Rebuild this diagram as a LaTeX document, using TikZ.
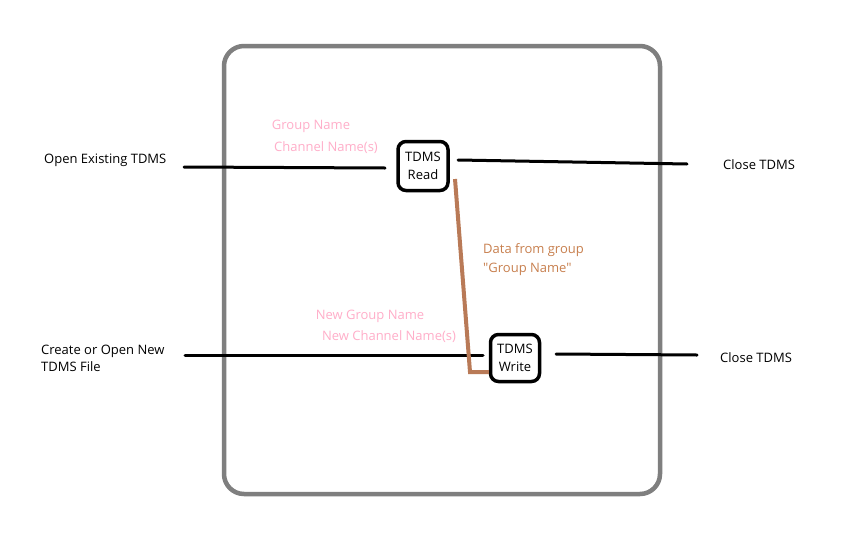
\documentclass[tikz,border=0pt]{standalone}
\usepackage{fontspec}
\setmainfont{Open Sans}[Ligatures=TeXOff]
\definecolor{pinklbl}{HTML}{FFAEC9}
\definecolor{brownln}{HTML}{B97A57}
\definecolor{brownlbl}{HTML}{C8804F}
\definecolor{framegray}{HTML}{7F7F7F}
\begin{document}
\begin{tikzpicture}[x=1pt,y=-1pt,
  lbl/.style={font=\fontsize{13}{17}\selectfont, inner sep=0pt, text=black},
  plbl/.style={lbl, text=pinklbl},
  blbl/.style={lbl, text=brownlbl, align=left, font=\fontsize{13}{19}\selectfont},
  vi/.style={draw=black, line width=3.5pt, rounded corners=8pt, align=center, font=\fontsize{13}{18}\selectfont, inner sep=0pt},
  wire/.style={line width=3pt, line cap=round},
  dataw/.style={line width=4pt, brownln}
]
\useasboundingbox (0,0) rectangle (843,557);
\fill[white] (0,0) rectangle (843,557);
\draw[framegray, line width=4.5pt, rounded corners=20pt] (224,46) rectangle (660,494);

\node[vi, minimum width=50pt, minimum height=49pt] (read) at (423,166) {TDMS\\Read};
\node[vi, minimum width=49pt, minimum height=47pt] (write) at (515,358) {TDMS\\Write};

\node[lbl, anchor=west] (open) at (44,160) {Open Existing TDMS};
\node[lbl, anchor=west, align=left] (create) at (41,358) {Create or Open New\\TDMS File};
\node[lbl, anchor=west] (close1) at (723,165) {Close TDMS};
\node[lbl, anchor=west] (close2) at (720,358) {Close TDMS};

\node[plbl] (gname) at (311,126) {Group Name};
\node[plbl] (cname) at (326,148) {Channel Name(s)};
\node[plbl] (ngname) at (370,316) {New Group Name};
\node[plbl] (ncname) at (389,337) {New Channel Name(s)};
\node[blbl, anchor=west] (data) at (483,260) {Data from group\\"Group Name"};

\coordinate (o1) at (184,167);
\coordinate (o2) at (385,168);
\coordinate (r1) at (458,160);
\coordinate (r2) at (687,164);
\coordinate (c1) at (185,355);
\coordinate (c2) at (483,355);
\coordinate (w1) at (556,354);
\coordinate (w2) at (697,355);
\draw[wire] (o1) -- (o2);
\draw[wire] (r1) -- (r2);
\draw[wire] (c1) -- (c2);
\draw[wire] (w1) -- (w2);

\coordinate (d1) at (455,179);
\coordinate (d2) at (470,372);
\draw[dataw] (d1) -- (d2) -- (write.west |- d2);
\end{tikzpicture}
\end{document}
